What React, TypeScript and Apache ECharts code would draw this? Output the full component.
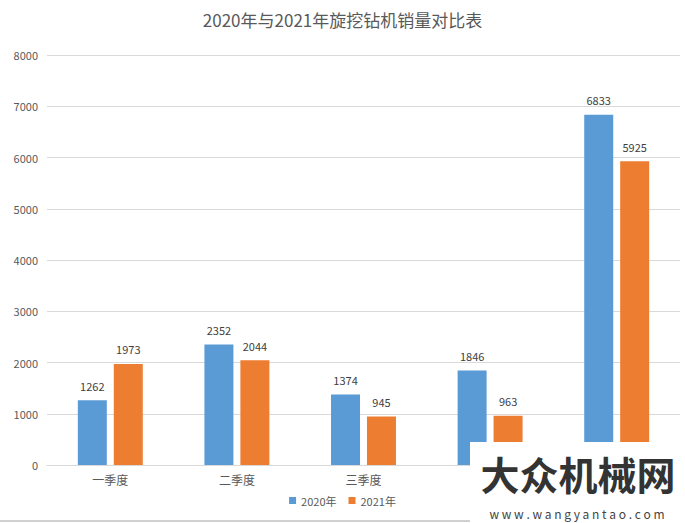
import React, { useEffect, useRef } from "react";
import * as echarts from "echarts";

const categories = ["一季度", "二季度", "三季度", "四季度", "全年"];
const series2020 = [1262, 2352, 1374, 1846, 6833];
const series2021 = [1973, 2044, 945, 963, 5925];
const seriesNames = ["2020年", "2021年"];
const titleText = "2020年与2021年旋挖钻机销量对比表";
const hiddenLabelIdx = [3, 4];

const FONT = "'Noto Sans CJK SC', 'Noto Sans', sans-serif";

export default function App() {
  const ref = useRef<HTMLDivElement>(null);
  useEffect(() => {
    document.body.style.margin = "0";
    const chart = echarts.init(ref.current!, null, { renderer: "svg" });
    chart.setOption({
      animation: false,
      backgroundColor: "#ffffff",
      textStyle: { fontFamily: FONT },
      title: {
        text: titleText,
        left: "center",
        top: 6,
        textStyle: { fontSize: 17, fontWeight: "normal", color: "#595959", fontFamily: FONT },
      },
      legend: {
        bottom: 12,
        left: "center",
        itemWidth: 7,
        itemHeight: 7,
        itemGap: 12,
        icon: "rect",
        textStyle: { fontSize: 11, color: "#595959", fontFamily: FONT },
        data: seriesNames,
      },
      grid: { left: 47, right: 5, top: 55, bottom: 58, containLabel: false },
      xAxis: {
        type: "category",
        data: categories,
        axisLine: { lineStyle: { color: "#D9D9D9" } },
        axisTick: { show: false },
        axisLabel: {
          fontSize: 12,
          color: "#595959",
          margin: 8,
          fontFamily: FONT,
          interval: (i: number) => hiddenLabelIdx.indexOf(i) < 0,
        },
      },
      yAxis: {
        type: "value",
        min: 0,
        max: 8000,
        interval: 1000,
        axisLine: { show: false },
        axisTick: { show: false },
        splitLine: { lineStyle: { color: "#D9D9D9" } },
        axisLabel: {
          fontSize: 11,
          color: "#595959",
          margin: 9,
          fontFamily: FONT,
          formatter: (v: number) => String(v),
        },
      },
      series: [
        {
          name: seriesNames[0],
          type: "bar",
          data: series2020,
          barWidth: 29,
          barGap: "24%",
          itemStyle: { color: "#5B9BD5" },
          label: { show: true, position: "top", distance: 9, fontSize: 11, color: "#404040", fontFamily: FONT },
        },
        {
          name: seriesNames[1],
          type: "bar",
          data: series2021,
          barWidth: 29,
          barGap: "24%",
          itemStyle: { color: "#ED7D31" },
          label: { show: true, position: "top", distance: 9, fontSize: 11, color: "#404040", fontFamily: FONT },
        },
      ],
      graphic: [
        {
          type: "line",
          shape: { x1: 0, y1: 521, x2: 685, y2: 521 },
          style: { stroke: "#D0D0D0", lineWidth: 2 },
          z: 50,
        },
        {
          type: "rect",
          shape: { x: 470, y: 442, width: 215, height: 81 },
          style: { fill: "#ffffff" },
          z: 100,
        },
        {
          type: "text",
          x: 578,
          y: 473,
          z: 101,
          style: {
            text: "大众机械网",
            fontSize: 39,
            lineHeight: 39,
            fontWeight: "bold",
            fill: "#333333",
            fontFamily: FONT,
            align: "center",
            verticalAlign: "middle",
          },
        },
        {
          type: "text",
          x: 577,
          y: 513,
          z: 101,
          style: {
            text: "w w w . w a n g y a n t a o . c o m",
            fontSize: 12,
            lineHeight: 12,
            fill: "#444444",
            fontFamily: FONT,
            align: "center",
            verticalAlign: "middle",
          },
        },
      ],
    });
    return () => chart.dispose();
  }, []);
  return <div ref={ref} style={{ position: "fixed", left: 0, top: 0, width: 685, height: 523 }} />;
}
